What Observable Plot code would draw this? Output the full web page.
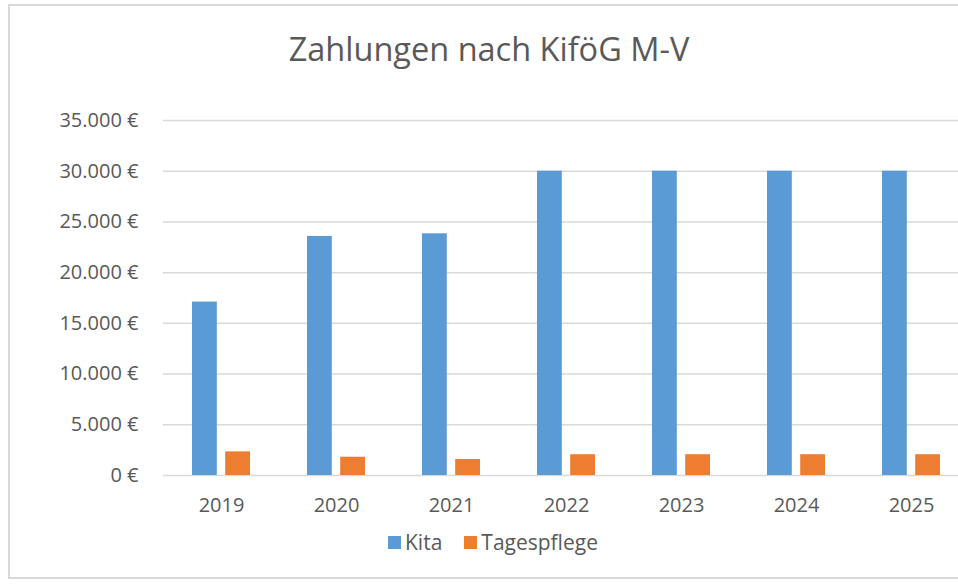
<!DOCTYPE html>
<html>
<head>
<meta charset="utf-8">
<script src="https://cdn.jsdelivr.net/npm/d3@7"></script>
<script src="https://cdn.jsdelivr.net/npm/@observablehq/plot@0.6"></script>
<style>
  html, body { margin: 0; padding: 0; background: #fff; overflow: hidden; width: 958px; height: 584px; }
  #wrap { position: relative; width: 958px; height: 584px; overflow: hidden; font-family: "Open Sans", sans-serif; }
  #frame { position: absolute; left: 8px; top: 4px; width: 990px; height: 575px; border: 2px solid #d9d9d9; border-right: none; box-sizing: border-box; }
  #title { position: absolute; left: 9px; width: 960px; top: 27px; text-align: center; font-size: 32.5px; line-height: 44px; color: #595959; font-weight: 400; }
  #chart { position: absolute; left: 0; top: 0; width: 975px; }
  #chart svg { max-width: none !important; }
  #legend { position: absolute; top: 528px; left: 388px; display: flex; align-items: center; font-size: 21px; line-height: 28px; color: #595959; }
  .sw { width: 13px; height: 13px; display: inline-block; margin-right: 4px; }
  .item { display: flex; align-items: center; margin-right: 22px; }
</style>
</head>
<body>
<div id="wrap">
  <div id="frame"></div>
  <div id="chart"></div>
  <div id="title">Zahlungen nach KiföG M-V</div>
  <div id="legend"></div>
</div>
<script>
const years = ["2019", "2020", "2021", "2022", "2023", "2024", "2025"];
const kita = [17100, 23570, 23830, 30000, 30000, 30000, 30000];
const tagespflege = [2330, 1800, 1580, 2050, 2050, 2050, 2050];
const seriesNames = ["Kita", "Tagespflege"];
const seriesColors = ["#5b9bd5", "#ed7d31"];
const yTicks = [0, 5000, 10000, 15000, 20000, 25000, 30000, 35000];

const kitaData = years.map((y, i) => ({year: y, value: kita[i]}));
const tpData = years.map((y, i) => ({year: y, value: tagespflege[i]}));

const fmt = v => d3.format(",")(v).replace(/,/g, ".") + " €";

const plot = Plot.plot({
  width: 975,
  height: 584,
  marginLeft: 163,
  marginRight: 5,
  marginTop: 120,
  marginBottom: 109,
  style: {fontFamily: "Open Sans, sans-serif", background: "transparent", color: "#595959", maxWidth: "none"},
  x: {domain: years, paddingInner: 0.495, paddingOuter: 0.2475, align: 0.5},
  y: {domain: [0, 35000]},
  marks: [
    Plot.ruleY(yTicks, {stroke: "#d9d9d9", strokeWidth: 1.5}),
    Plot.barY(kitaData, {x: "year", y: "value", fill: seriesColors[0], insetLeft: 0, insetRight: 33.2}),
    Plot.barY(tpData, {x: "year", y: "value", fill: seriesColors[1], insetLeft: 33.2, insetRight: 0}),
    Plot.axisY({ticks: yTicks, tickFormat: fmt, tickSize: 0, tickPadding: 25, fontSize: 20, label: null, fill: "#595959"}),
    Plot.axisX({tickSize: 0, tickPadding: 22, fontSize: 20, label: null, fill: "#595959"})
  ]
});
document.getElementById("chart").appendChild(plot);

const legend = document.getElementById("legend");
seriesNames.forEach((n, i) => {
  const it = document.createElement("div");
  it.className = "item";
  const sw = document.createElement("span");
  sw.className = "sw";
  sw.style.background = seriesColors[i];
  it.appendChild(sw);
  const t = document.createElement("span");
  t.textContent = n;
  it.appendChild(t);
  legend.appendChild(it);
});
</script>
</body>
</html>
